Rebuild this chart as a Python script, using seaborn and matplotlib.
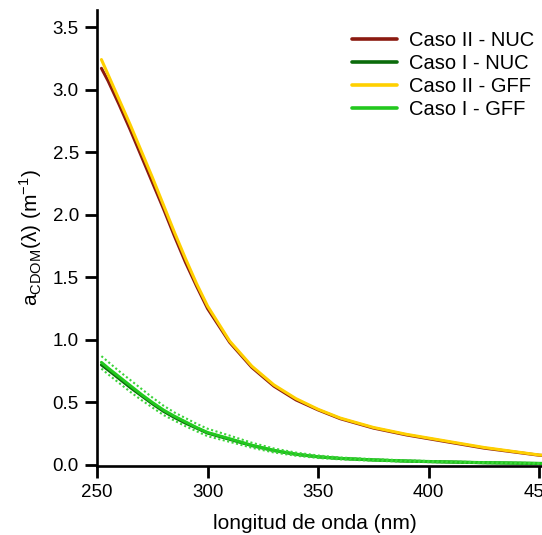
import numpy as np
import pandas as pd
import matplotlib
matplotlib.use("Agg")
import matplotlib.pyplot as plt
import seaborn as sns

# longitud de onda (nm)
wl = [252, 255, 260, 265, 270, 275, 280, 285, 290, 295, 300, 310, 320, 330,
      340, 350, 360, 375, 390, 400, 425, 450, 475, 500]

caso2_nuc = [3.17, 3.07, 2.88, 2.68, 2.47, 2.26, 2.05, 1.83, 1.62, 1.43, 1.25,
             0.98, 0.78, 0.63, 0.52, 0.44, 0.37, 0.295, 0.24, 0.21, 0.135,
             0.078, 0.048, 0.028]
caso1_nuc = [0.80, 0.76, 0.69, 0.62, 0.555, 0.49, 0.43, 0.38, 0.335, 0.295,
             0.255, 0.205, 0.155, 0.115, 0.085, 0.065, 0.052, 0.040, 0.031,
             0.027, 0.018, 0.012, 0.008, 0.005]
caso2_gff = [3.24, 3.12, 2.92, 2.72, 2.51, 2.30, 2.08, 1.86, 1.65, 1.45, 1.27,
             0.99, 0.79, 0.64, 0.53, 0.445, 0.375, 0.30, 0.245, 0.215, 0.14,
             0.08, 0.05, 0.03]
caso1_gff = [0.82, 0.775, 0.705, 0.635, 0.565, 0.50, 0.44, 0.39, 0.345, 0.30,
             0.26, 0.21, 0.158, 0.117, 0.087, 0.066, 0.053, 0.041, 0.032,
             0.028, 0.019, 0.013, 0.009, 0.006]
# desviacion Caso I - GFF (lineas punteadas)
caso1_gff_sup = [0.87, 0.825, 0.75, 0.68, 0.61, 0.54, 0.475, 0.42, 0.375, 0.33,
                 0.29, 0.235, 0.178, 0.132, 0.099, 0.076, 0.06, 0.047, 0.037,
                 0.032, 0.022, 0.015, 0.01, 0.007]
caso1_gff_inf = [0.77, 0.725, 0.655, 0.585, 0.52, 0.46, 0.40, 0.355, 0.31, 0.27,
                 0.23, 0.185, 0.138, 0.10, 0.074, 0.056, 0.045, 0.034, 0.026,
                 0.023, 0.015, 0.01, 0.007, 0.004]

series = ["Caso II - NUC", "Caso I - NUC", "Caso II - GFF", "Caso I - GFF"]
colores = ["#8b1a10", "#0b6b0b", "#ffd000", "#22c81e"]

df = pd.concat([
    pd.DataFrame({"wl": wl, "a": v, "serie": s})
    for s, v in zip(series, [caso2_nuc, caso1_nuc, caso2_gff, caso1_gff])
])

sns.set_style("ticks")
plt.rcParams["font.family"] = ["Liberation Sans", "DejaVu Sans"]
plt.rcParams["mathtext.fontset"] = "custom"
plt.rcParams["mathtext.rm"] = "Liberation Sans"
plt.rcParams["text.color"] = "black"
plt.rcParams["axes.labelcolor"] = "black"

fig = plt.figure(figsize=(5.42, 5.35), dpi=100)
ax = fig.add_axes([97 / 542, 69 / 535, 1.02, 456 / 535])

sns.lineplot(data=df, x="wl", y="a", hue="serie", hue_order=series,
             palette=colores, linewidth=2.2, ax=ax, sort=False)
for lim in [caso1_gff_sup, caso1_gff_inf]:
    ax.plot(wl, lim, color="#3cd43a", linestyle=(0, (1, 1.2)), linewidth=1.5)

ax.set_xlim(250, 500)
ax.set_ylim(-0.008, 3.636)
ax.set_xticks([250, 300, 350, 400, 450, 500])
ax.set_yticks([0.0, 0.5, 1.0, 1.5, 2.0, 2.5, 3.0, 3.5])
ax.yaxis.set_major_formatter(matplotlib.ticker.FormatStrFormatter("%.1f"))
ax.tick_params(labelsize=13.5, length=8.6, width=2, color="black",
               labelcolor="black", pad=4.5)
for sp in ["top", "right"]:
    ax.spines[sp].set_visible(False)
for sp in ["left", "bottom"]:
    ax.spines[sp].set_linewidth(1.9)
    ax.spines[sp].set_color("black")

ax.set_xlabel("longitud de onda (nm)", fontsize=15, labelpad=6)
ax.set_ylabel(r"a$_{\mathrm{CDOM}}$(λ) (m$^{-1}$)", fontsize=15, labelpad=6)
ax.xaxis.set_label_coords((315 - 97) / (1.02 * 542), -0.105)

handles, labels = ax.get_legend_handles_labels()
leg = ax.legend(handles, labels, loc="upper left",
                bbox_to_anchor=(352 / 542, 1 - 31 / 535),
                bbox_transform=fig.transFigure, frameon=False, fontsize=14.5,
                handlelength=2.25, handletextpad=0.6, labelspacing=0.2,
                borderpad=0, borderaxespad=0)
for h in leg.get_lines():
    h.set_linewidth(2.6)

fig.savefig("out.png", dpi=100)
